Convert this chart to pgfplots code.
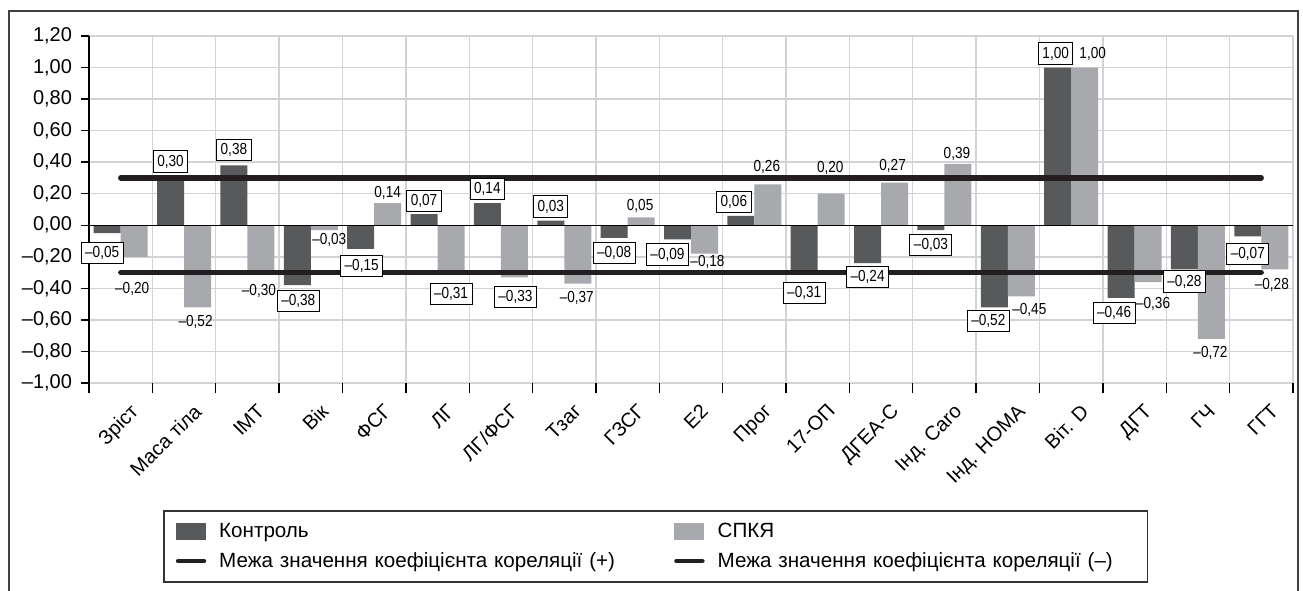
\documentclass[border=0pt]{standalone}
\usepackage{fontspec}
\setmainfont{Liberation Sans}
\newfontfamily\condf[FakeStretch=0.85]{Liberation Sans}
\usepackage{pgfplots}
\usepackage{pgfplotstable}
\pgfplotsset{compat=1.18}
\definecolor{darkbar}{HTML}{58595B}
\definecolor{lightbar}{HTML}{A7A9AC}
\definecolor{thr}{HTML}{231F20}
\definecolor{gridc}{HTML}{D1D3D4}

% x: category; c/s: values; cl/sl: labels; cdx,cdy,sdx,sdy: label offsets (px);
% sb/su: SPKYa values whose labels are boxed / unboxed
\pgfplotstableread{
x c cl cdx cdy s sl sdx sdy sb su
0 -0.05 –0,05 -5 -19.5 -0.20 –0,20 -2 -32 nan -0.20
1 0.30 0,30 0 16.5 -0.52 –0,52 -2 -15 nan -0.52
2 0.38 0,38 0 15 -0.30 –0,30 -2 -18 nan -0.30
3 -0.38 –0,38 1 -15.5 -0.03 –0,03 5 -10 nan -0.03
4 -0.15 –0,15 1 -17 0.14 0,14 0 10 nan 0.14
5 0.07 0,07 0 13.5 -0.31 –0,31 0 -19.5 -0.31 nan
6 0.14 0,14 0 14 -0.33 –0,33 1 -20 -0.33 nan
7 0.03 0,03 0 14 -0.37 –0,37 -1 -14 nan -0.37
8 -0.08 –0,08 0 -15 0.05 0,05 -1 11 nan 0.05
9 -0.09 –0,09 -10 -15 -0.18 –0,18 3 -8 nan -0.18
10 0.06 0,06 -7 14 0.26 0,26 -1 17 nan 0.26
11 -0.31 –0,31 0 -18.5 0.20 0,20 -1 26 nan 0.20
12 -0.24 –0,24 0 -13.5 0.27 0,27 -2 17 nan 0.27
13 -0.03 –0,03 0 -15 0.39 0,39 -1 10 nan 0.39
14 -0.52 –0,52 -6 -14 -0.45 –0,45 8 -14 nan -0.45
15 1.00 1,00 -2 14 1.00 1,00 8 13.5 nan 1.00
16 -0.46 –0,46 -7 -15 -0.36 –0,36 5 -21.5 nan -0.36
17 -0.28 –0,28 0 -12 -0.72 –0,72 -1 -14 nan -0.72
18 -0.07 –0,07 0 -17.5 -0.28 –0,28 -3 -15 nan -0.28
}\datatable

\pgfplotsset{
  lbl/.style={draw=none, mark=none, forget plot, point meta=explicit symbolic,
    nodes near coords, unbounded coords=discard,
    every node near coord/.append style={font=\condf\fontsize{8}{9}\selectfont,
      anchor=center, inner xsep=2pt, inner ysep=2pt,
      xshift={\ldx*0.5pt}, yshift={\ldy*0.5pt}}},
  boxed/.style={every node near coord/.append style={draw=black, fill=white, line width=0.5pt}},
}

\begin{document}
\begin{tikzpicture}
\useasboundingbox (0pt,0pt) rectangle (651.5pt,-295pt);
\draw[black!75, line width=0.8pt] (4.5pt,-5.5pt) rectangle (649pt,-310pt);
\begin{axis}[
  at={(44.5pt,-191.5pt)}, anchor=south west,
  scale only axis, width=602pt, height=173.5pt,
  xmin=-0.5, xmax=18.5, ymin=-1, ymax=1.2,
  clip=false,
  axis x line*=bottom, axis y line*=left,
  x axis line style={draw=none},
  y axis line style={black, line width=0.7pt, -},
  xtick={0,...,18},
  xticklabels={Зріст,Маса тіла,ІМТ,Вік,ФСГ,ЛГ,ЛГ/ФСГ,Тзаг,ГЗСГ,Е2,Прог,17-ОП,ДГЕА-С,Інд. Caro,Інд. HOMA,Віт. D,ДГТ,ГЧ,ГГТ},
  minor xtick={-0.5,0.5,...,18.5},
  major x tick style={draw=none},
  minor x tick style={black, line width=0.7pt},
  minor tick length=5pt,
  major tick length=4pt,
  tick align=outside,
  y tick style={black, line width=0.7pt},
  xminorgrids=true, ymajorgrids=true, xmajorgrids=false,
  grid style={gridc, line width=0.7pt},
  minor grid style={gridc, line width=0.7pt},
  ytick={-1,-0.8,-0.6,-0.4,-0.2,0,0.2,0.4,0.6,0.8,1,1.2},
  yticklabels={{–1,00},{–0,80},{–0,60},{–0,40},{–0,20},{0,00},{0,20},{0,40},{0,60},{0,80},{1,00},{1,20}},
  yticklabel style={font=\fontsize{10}{11}\selectfont, xshift=-1pt},
  xticklabel style={font=\fontsize{10}{11}\selectfont, rotate=45, anchor=north east, inner sep=1pt, yshift=-6pt},
  legend columns=2,
  legend cell align=left,
  legend style={at={(axis description cs:0.0615,-0.366)}, anchor=north west,
    draw=black!80, line width=0.8pt, font=\fontsize{10.3}{12}\selectfont,
    inner xsep=6pt, inner ysep=5pt, row sep=4pt,
    nodes={text width=207pt, align=left, inner xsep=2pt, inner ysep=1pt},
    /tikz/column 1/.style={column sep=4.5pt},
    /tikz/column 2/.style={column sep=18.5pt},
    /tikz/column 3/.style={column sep=4.5pt}},
]
\addplot[ybar, bar width=13.5pt, bar shift=-6.75pt, fill=darkbar, draw=none,
  legend image code/.code={\fill[darkbar] (0pt,-4.25pt) rectangle (15pt,4.25pt);}]
  table[x=x, y=c] {\datatable};
\addlegendentry{Контроль}
\addplot[ybar, bar width=13.5pt, bar shift=6.75pt, fill=lightbar, draw=none,
  legend image code/.code={\fill[lightbar] (0pt,-4.25pt) rectangle (15pt,4.25pt);}]
  table[x=x, y=s] {\datatable};
\addlegendentry{СПКЯ}
\draw[black, line width=0.6pt] (axis cs:-0.5,0) -- (axis cs:18.5,0);
\addplot[thr, line width=2.6pt, line cap=round, sharp plot, no marks,
  legend image code/.code={\draw[thr, line width=2.2pt, line cap=round] (1pt,0pt) -- (14pt,0pt);}]
  coordinates {(0,0.3) (18,0.3)};
\addlegendentry{\mbox{Межа значення коефіцієнта кореляції (+)}}
\addplot[thr, line width=2.6pt, line cap=round, sharp plot, no marks,
  legend image code/.code={\draw[thr, line width=2.2pt, line cap=round] (1pt,0pt) -- (14pt,0pt);}]
  coordinates {(0,-0.3) (18,-0.3)};
\addlegendentry{\mbox{Межа значення коефіцієнта кореляції (–)}}
% value labels
\addplot[lbl, boxed,
  visualization depends on={\thisrow{cdx} \as \ldx},
  visualization depends on={\thisrow{cdy} \as \ldy}]
  table[x expr=\thisrow{x}-0.2131, y=c, meta=cl] {\datatable};
\addplot[lbl, boxed,
  visualization depends on={\thisrow{sdx} \as \ldx},
  visualization depends on={\thisrow{sdy} \as \ldy}]
  table[x expr=\thisrow{x}+0.2131, y=sb, meta=sl] {\datatable};
\addplot[lbl,
  visualization depends on={\thisrow{sdx} \as \ldx},
  visualization depends on={\thisrow{sdy} \as \ldy}]
  table[x expr=\thisrow{x}+0.2131, y=su, meta=sl] {\datatable};
\end{axis}
\end{tikzpicture}
\end{document}
